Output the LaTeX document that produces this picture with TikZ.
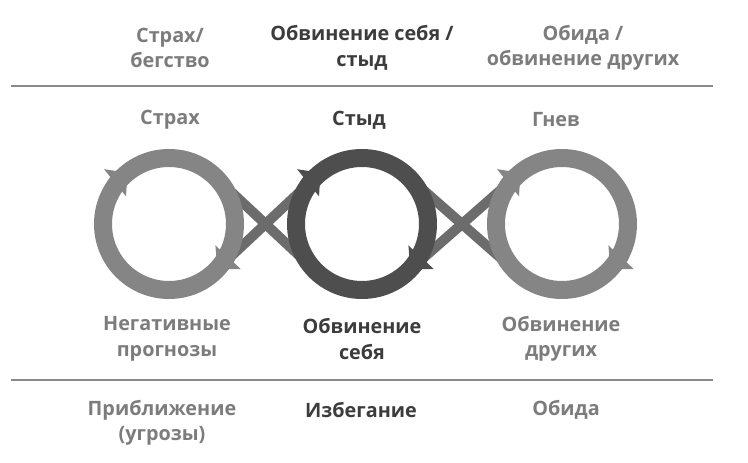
\documentclass[tikz,border=0pt]{standalone}
\usepackage{fontspec}
\setmainfont{Open Sans}
\usetikzlibrary{arrows.meta}
\definecolor{sidegray}{HTML}{858585}
\definecolor{midgray}{HTML}{4E4E4E}
\definecolor{bandgray}{HTML}{6C6C6C}
\definecolor{rulegray}{HTML}{8A8A8A}
\definecolor{labgray}{HTML}{7C7C7C}
\definecolor{labdark}{HTML}{3C3C3C}
\tikzset{
  graytxt/.style={text=labgray, font=\bfseries\fontsize{19.8}{25.5}\selectfont, align=center},
  darktxt/.style={text=labdark, font=\bfseries\fontsize{19.8}{25.5}\selectfont, align=center},
  spot/.style={circle, minimum size=132pt, inner sep=0pt, outer sep=0pt},
  ring/.style={line width=18pt},
  band/.style={line width=10pt, color=bandgray},
  tip/.style={line width=18pt, -{Triangle[length=16pt, width=34pt]}},
  rule/.style={line width=2.2pt, color=rulegray}
}

\begin{document}
\begin{tikzpicture}[x=1pt, y=1pt]
			%%%%% START %%%%%
			\useasboundingbox (0,0) rectangle (748,463);
			
			\coordinate (topL) at (11,377);
			\coordinate (topR) at (713,377);
			\coordinate (botL) at (11,83);
			\coordinate (botR) at (713,83);
			\draw[rule] (topL) -- (topR);
			\draw[rule] (botL) -- (botR);
			
			\node[graytxt] (topfear) at (170,415) {Страх/\\бегство};
			\node[darktxt] (topshame) at (362,415) {Обвинение себя /\\стыд};
			\node[graytxt] (topanger) at (583,415) {Обида /\\обвинение других};
			
			\node[graytxt] (fearname) at (170,343) {Страх};
			\node[darktxt] (shamename) at (359,343) {Стыд};
			\node[graytxt] (angername) at (556,343) {Гнев};
			
			\node[spot] (fear) at (169,239) {};
			\node[spot] (shame) at (362,239) {};
			\node[spot] (anger) at (562,239) {};
			
			\draw[band] (fear.47) -- (shame.227);
			\draw[band] (fear.-47) -- (shame.133);
			\draw[band] (shame.49) -- (anger.229);
			\draw[band] (shame.-49) -- (anger.131);
			
			\draw[ring, sidegray] (fear.center) circle[radius=66];
			\draw[ring, midgray] (shame.center) circle[radius=66];
			\draw[ring, sidegray] (anger.center) circle[radius=66];
			
			\draw[tip, sidegray] (fear.146) arc[start angle=146, end angle=129, radius=66];
			\draw[tip, sidegray] (fear.-26) arc[start angle=-26, end angle=-43, radius=66];
			\draw[tip, midgray] (shame.146) arc[start angle=146, end angle=129, radius=66];
			\draw[tip, midgray] (shame.-26) arc[start angle=-26, end angle=-43, radius=66];
			\draw[tip, sidegray] (anger.146) arc[start angle=146, end angle=129, radius=66];
			\draw[tip, sidegray] (anger.-26) arc[start angle=-26, end angle=-43, radius=66];
			
			\node[graytxt] (fearthought) at (167,124) {Негативные\\прогнозы};
			\node[darktxt] (shamethought) at (362,124) {Обвинение\\себя};
			\node[graytxt] (angerthought) at (561,124) {Обвинение\\других};
			
			\node[graytxt] (fearact) at (162,40) {Приближение\\(угрозы)};
			\node[darktxt] (shameact) at (361,53) {Избегание};
			\node[graytxt] (angeract) at (566,53) {Обида};
			
			%%%%% END %%%%%
\end{tikzpicture}
\end{document}
